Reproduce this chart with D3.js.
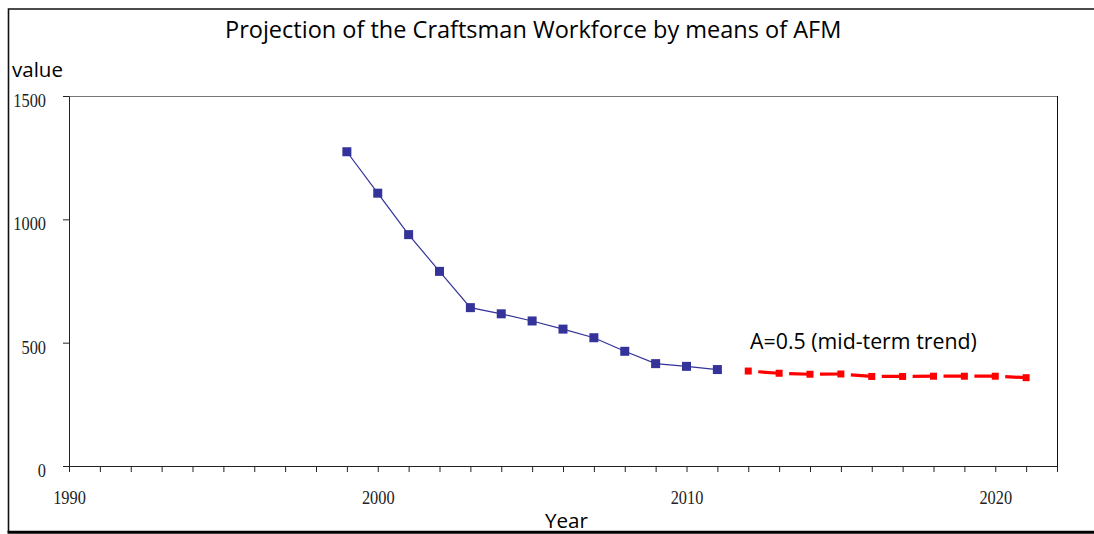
<!DOCTYPE html>
<html>
<head>
<meta charset="utf-8">
<script src="https://cdn.jsdelivr.net/npm/d3@7/dist/d3.min.js"></script>
<style>
  html, body { margin: 0; padding: 0; background: #fff; }
  svg { display: block; }
</style>
</head>
<body>
<svg id="chart" width="1094" height="534"></svg>
<script>
// Observed craftsman workforce
const actualYears = [1999, 2000, 2001, 2002, 2003, 2004, 2005, 2006, 2007, 2008, 2009, 2010, 2011];
const actualValues = [1274, 1106, 938, 789, 642, 617, 588, 555, 520, 465, 415, 404, 391];

// AFM projection, A = 0.5
const projYears = [2012, 2013, 2014, 2015, 2016, 2017, 2018, 2019, 2020, 2021];
const projValues = [385, 376, 372, 373, 363, 363, 364, 364, 364, 358];

// Axis ticks and labels
const yTickValues = [0, 500, 1000, 1500];
const xTickYears = d3.range(1990, 2023);
const xLabelYears = [1990, 2000, 2010, 2020];

const titleText = "Projection of the Craftsman Workforce by means of AFM";
const yAxisTitle = "value";
const xAxisTitle = "Year";
const seriesLabel = "A=0.5 (mid-term trend)";

const svg = d3.select("#chart");
const W = 1094, H = 534;
const plot = { left: 69, right: 1057, top: 96, bottom: 466 };

const x = d3.scaleLinear().domain([1990, 2022]).range([plot.left, plot.right]);
const y = d3.scaleLinear().domain([0, 1500]).range([plot.bottom, plot.top]);

const sansFont = "'Open Sans', Lato, sans-serif";
const serifFont = "'Liberation Serif', 'DejaVu Serif', serif";

// Narrow the serif tick numerals a little
function condense(sel, factor) {
  sel.each(function () {
    const len = this.getComputedTextLength();
    d3.select(this).attr("textLength", len * factor).attr("lengthAdjust", "spacingAndGlyphs");
  });
}

// Size a text so that it spans the given width
function fitWidth(sel, width) {
  sel.each(function () {
    const t = d3.select(this);
    const size = +t.attr("font-size");
    const len = this.getComputedTextLength();
    t.attr("font-size", size * width / len);
  });
}

// Outer chart frame (right edge runs off the canvas)
svg.append("path")
  .attr("d", `M${W + 5},9 H8.5 V532`)
  .attr("fill", "none").attr("stroke", "#111").attr("stroke-width", 1.6);
svg.append("line")
  .attr("x1", 7.5).attr("x2", W + 5).attr("y1", 532.3).attr("y2", 532.3)
  .attr("stroke", "#000").attr("stroke-width", 3);

// Plot frame: top and right borders
svg.append("line")
  .attr("x1", plot.left).attr("x2", plot.right).attr("y1", plot.top + 0.5).attr("y2", plot.top + 0.5)
  .attr("stroke", "#777").attr("stroke-width", 1);
svg.append("line")
  .attr("x1", plot.right + 0.5).attr("x2", plot.right + 0.5).attr("y1", plot.top).attr("y2", plot.bottom)
  .attr("stroke", "#111").attr("stroke-width", 1);

// X axis: yearly ticks
const xAxis = svg.append("g")
  .attr("transform", `translate(0,${plot.bottom})`)
  .call(d3.axisBottom(x).tickValues(xTickYears).tickSize(6).tickSizeOuter(0).tickFormat(""));
xAxis.select(".domain").attr("stroke", "#222");
xAxis.selectAll(".tick line").attr("stroke", "#222");

// X axis labels every ten years
const xLabels = svg.append("g")
  .attr("transform", `translate(0,${plot.bottom})`)
  .call(d3.axisBottom(x).tickValues(xLabelYears).tickSize(0).tickPadding(25).tickFormat(d3.format("d")));
xLabels.select(".domain").remove();
xLabels.selectAll("text")
  .attr("font-family", serifFont).attr("font-size", 19).attr("fill", "#222")
  .call(condense, 0.86);

// Y axis
const yAxis = svg.append("g")
  .attr("transform", `translate(${plot.left},0)`)
  .call(d3.axisLeft(y).tickValues(yTickValues).tickSize(6).tickSizeOuter(0).tickPadding(17).tickFormat(d3.format("d")));
yAxis.select(".domain").attr("stroke", "#222");
yAxis.selectAll(".tick line").attr("stroke", "#222");
yAxis.selectAll("text")
  .attr("font-family", serifFont).attr("font-size", 19).attr("fill", "#222")
  .attr("dy", "0.55em")
  .call(condense, 0.86);

// Titles
svg.append("text")
  .attr("x", 225).attr("y", 38)
  .attr("font-family", sansFont).attr("font-size", 20).attr("fill", "#000")
  .text(titleText)
  .call(fitWidth, 617);
svg.append("text")
  .attr("x", 12).attr("y", 77)
  .attr("font-family", sansFont).attr("font-size", 20).attr("fill", "#000")
  .text(yAxisTitle)
  .call(fitWidth, 51);
svg.append("text")
  .attr("x", 545).attr("y", 528)
  .attr("font-family", sansFont).attr("font-size", 20).attr("fill", "#000")
  .text(xAxisTitle)
  .call(fitWidth, 43);

// Observed series
const actual = actualYears.map((yr, i) => ({ yr, v: actualValues[i] }));
const line = d3.line().x(d => x(d.yr)).y(d => y(d.v));
svg.append("path")
  .datum(actual)
  .attr("d", line)
  .attr("fill", "none").attr("stroke", "#333399").attr("stroke-width", 1.2);
svg.append("g").selectAll("rect")
  .data(actual).join("rect")
  .attr("x", d => x(d.yr) - 4.5).attr("y", d => y(d.v) - 4.5)
  .attr("width", 9).attr("height", 9)
  .attr("fill", "#333399");

// Projected series: each segment starts with a short gap, then a long dash
const proj = projYears.map((yr, i) => ({ yr, v: projValues[i] }));
svg.append("g").selectAll("path")
  .data(d3.pairs(proj)).join("path")
  .attr("d", d => line(d))
  .attr("fill", "none").attr("stroke", "#ff0000").attr("stroke-width", 3.2)
  .attr("stroke-dasharray", "0,10,100");
svg.append("g").selectAll("rect")
  .data(proj).join("rect")
  .attr("x", d => x(d.yr) - 3.5).attr("y", d => y(d.v) - 3.5)
  .attr("width", 7).attr("height", 7)
  .attr("fill", "#ff0000");

// Series label
svg.append("text")
  .attr("x", 750).attr("y", 349)
  .attr("font-family", sansFont).attr("font-size", 20).attr("fill", "#000")
  .text(seriesLabel)
  .call(fitWidth, 227);
</script>
</body>
</html>
